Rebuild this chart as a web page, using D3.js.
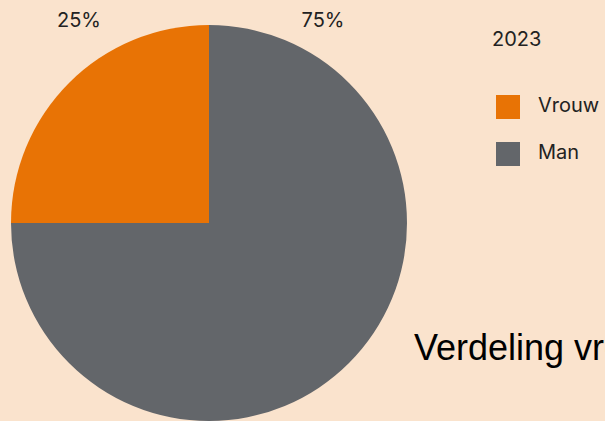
<!DOCTYPE html>
<html>
<head>
<meta charset="utf-8">
<script src="https://cdn.jsdelivr.net/npm/d3@7"></script>
<style>
  html, body { margin: 0; padding: 0; background: #fae3cd; overflow: hidden; }
  svg { display: block; }
</style>
</head>
<body>
<svg id="chart" width="605" height="421"></svg>
<script>
// ======== DATA ========
const categories = ['Vrouw', 'Man'];
const values = [25, 75];
const colors = ['#e87305', '#63666a'];
const legendTitle = '2023';
const chartTitle = 'Verdeling vrouw/man';

const W = 605, H = 421;
const svg = d3.select('#chart');
svg.append('rect').attr('width', W).attr('height', H).attr('fill', '#fae3cd');

const cx = 209, cy = 223, R = 198;

const color = d3.scaleOrdinal().domain(categories).range(colors);
const data = categories.map((c, i) => ({ cat: c, value: values[i] }));

// start at 12 o'clock, Vrouw sits to the left of the top
const pie = d3.pie().value(d => d.value).sort(null)
    .startAngle(-Math.PI / 2).endAngle(1.5 * Math.PI);
const arc = d3.arc().innerRadius(0).outerRadius(R);

const g = svg.append('g').attr('transform', `translate(${cx},${cy})`);
g.selectAll('path')
    .data(pie(data))
    .join('path')
    .attr('d', arc)
    .attr('fill', d => color(d.data.cat));

// percentage labels above the pie
const total = d3.sum(values);
const labelX = d3.scaleOrdinal().domain(categories).range([79, 323]);
svg.selectAll('text.pct')
    .data(data)
    .join('text')
    .attr('class', 'pct')
    .attr('x', d => labelX(d.cat))
    .attr('y', 22)
    .attr('text-anchor', 'middle')
    .attr('dominant-baseline', 'middle')
    .attr('font-family', 'Inter, sans-serif')
    .attr('font-size', 20)
    .attr('fill', '#222')
    .text(d => Math.round(d.value / total * 100) + '%');

// legend
svg.append('text')
    .attr('x', 492).attr('y', 41)
    .attr('dominant-baseline', 'middle')
    .attr('font-family', 'Inter, sans-serif')
    .attr('font-size', 20)
    .attr('fill', '#222')
    .text(legendTitle);

const legendY = d3.scalePoint().domain(categories).range([107, 154]);
const leg = svg.selectAll('g.leg')
    .data(categories)
    .join('g')
    .attr('class', 'leg')
    .attr('transform', c => `translate(496,${legendY(c)})`);
leg.append('rect')
    .attr('x', 0).attr('y', -12)
    .attr('width', 24).attr('height', 24)
    .attr('fill', c => color(c));
leg.append('text')
    .attr('x', 42).attr('y', 0)
    .attr('dominant-baseline', 'middle')
    .attr('font-family', 'Inter, sans-serif')
    .attr('font-size', 20)
    .attr('fill', '#222')
    .text(c => c);

// title (runs off the right edge, as in the reference)
svg.append('text')
    .attr('x', 414).attr('y', 360)
    .attr('font-family', '"Liberation Sans", Arial, sans-serif')
    .attr('font-size', 36)
    .attr('fill', '#000')
    .text(chartTitle);
</script>
</body>
</html>
